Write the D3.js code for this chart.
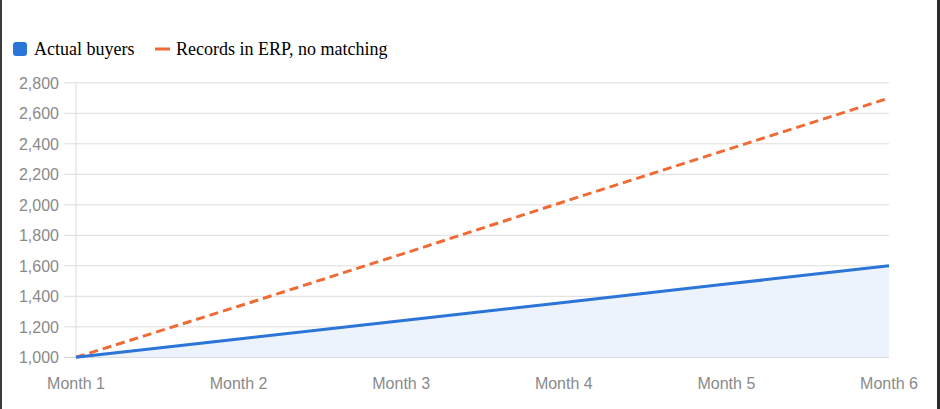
<!DOCTYPE html>
<html>
<head>
<meta charset="utf-8">
<script src="https://cdn.jsdelivr.net/npm/d3@7"></script>
<style>
  html, body { margin: 0; padding: 0; background: #fff; }
  svg { display: block; }
</style>
</head>
<body>
<div class="chart"></div>
<script>
const svgWidth = 940;
const svgHeight = 409;

// data
const months = ["Month 1", "Month 2", "Month 3", "Month 4", "Month 5", "Month 6"];
const actualBuyers = [1000, 1120, 1240, 1360, 1480, 1600];
const erpRecords = [1000, 1335, 1675, 2020, 2360, 2700];
const yTicks = [1000, 1200, 1400, 1600, 1800, 2000, 2200, 2400, 2600, 2800];

const plot = { left: 76, right: 889, top: 82.8, bottom: 357.3 };

const svg = d3.select(".chart")
  .append("svg")
  .attr("width", svgWidth)
  .attr("height", svgHeight);

// scales
const xScale = d3.scalePoint()
  .domain(months)
  .range([plot.left, plot.right]);

const yScale = d3.scaleLinear()
  .domain([1000, 2800])
  .range([plot.bottom, plot.top]);

// gridlines
svg.append("g")
  .selectAll("line")
  .data(yTicks)
  .enter()
  .append("line")
  .attr("x1", plot.left - 12)
  .attr("x2", plot.right)
  .attr("y1", d => yScale(d))
  .attr("y2", d => yScale(d))
  .attr("stroke", d => d === 1000 ? "#cccccc" : "#dddddb")
  .attr("stroke-width", 1);

// vertical axis line
svg.append("line")
  .attr("x1", plot.left)
  .attr("x2", plot.left)
  .attr("y1", plot.top)
  .attr("y2", plot.bottom)
  .attr("stroke", "#dddddb");

// y labels
svg.append("g")
  .selectAll("text")
  .data(yTicks)
  .enter()
  .append("text")
  .attr("x", 59)
  .attr("y", d => yScale(d))
  .attr("dy", "0.36em")
  .attr("text-anchor", "end")
  .attr("font-family", "Liberation Sans, Arial, sans-serif")
  .attr("font-size", 16)
  .attr("fill", "#8a8a8a")
  .text(d => d3.format(",")(d));

// x labels
svg.append("g")
  .selectAll("text")
  .data(months)
  .enter()
  .append("text")
  .attr("x", d => xScale(d))
  .attr("y", 389)
  .attr("text-anchor", "middle")
  .attr("font-family", "Liberation Sans, Arial, sans-serif")
  .attr("font-size", 16)
  .attr("fill", "#8a8a8a")
  .text(d => d);

// area under actual buyers
const area = d3.area()
  .x((d, i) => xScale(months[i]))
  .y0(yScale(1000))
  .y1(d => yScale(d));

svg.append("path")
  .attr("d", area(actualBuyers))
  .attr("fill", "#edf3fc");

const line = d3.line()
  .x((d, i) => xScale(months[i]))
  .y(d => yScale(d));

svg.append("path")
  .attr("d", line(erpRecords))
  .attr("fill", "none")
  .attr("stroke", "#f06a35")
  .attr("stroke-width", 3)
  .attr("stroke-dasharray", "9,5");

svg.append("path")
  .attr("d", line(actualBuyers))
  .attr("fill", "none")
  .attr("stroke", "#2b74d8")
  .attr("stroke-width", 3);

// legend
const legend = svg.append("g");
legend.append("rect")
  .attr("x", 13)
  .attr("y", 42)
  .attr("width", 14)
  .attr("height", 14)
  .attr("rx", 3)
  .attr("fill", "#2b74d8");
legend.append("text")
  .attr("x", 34)
  .attr("y", 55)
  .attr("font-family", "Liberation Serif, Times New Roman, serif")
  .attr("font-size", 18)
  .attr("fill", "#000")
  .text("Actual buyers");
legend.append("line")
  .attr("x1", 155)
  .attr("x2", 170)
  .attr("y1", 49)
  .attr("y2", 49)
  .attr("stroke", "#f06a35")
  .attr("stroke-width", 3);
legend.append("text")
  .attr("x", 176)
  .attr("y", 55)
  .attr("font-family", "Liberation Serif, Times New Roman, serif")
  .attr("font-size", 18)
  .attr("fill", "#000")
  .text("Records in ERP, no matching");

// window edges
svg.append("rect").attr("x", 0).attr("y", 0).attr("width", 2).attr("height", svgHeight).attr("fill", "#3a3a3a");
svg.append("rect").attr("x", 937).attr("y", 0).attr("width", 3).attr("height", svgHeight).attr("fill", "#2a2a2a");
</script>
</body>
</html>
